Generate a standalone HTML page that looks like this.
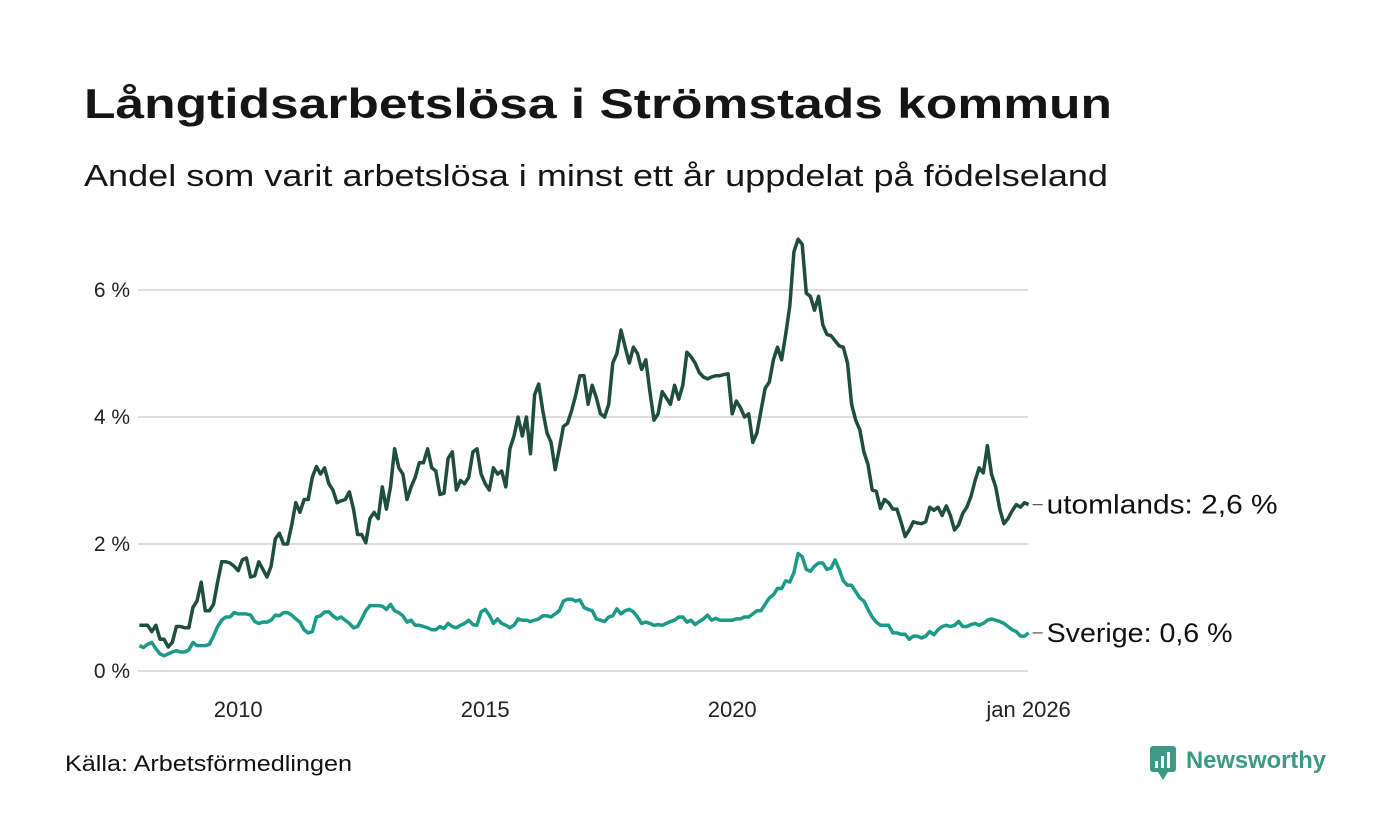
<!DOCTYPE html>
<html><head><meta charset="utf-8">
<style>
body{margin:0;background:#fff;}
svg{display:block;font-family:"Liberation Sans","DejaVu Sans",sans-serif;}
</style></head>
<body>
<svg id="chart" width="1400" height="840" viewBox="0 0 1400 840" xmlns="http://www.w3.org/2000/svg">
<rect width="1400" height="840" fill="#fff"/>
<text x="84" y="118" font-size="42" font-weight="bold" fill="#151515" textLength="1028" lengthAdjust="spacingAndGlyphs">Långtidsarbetslösa i Strömstads kommun</text>
<text x="84" y="186" font-size="31" fill="#151515" textLength="1024" lengthAdjust="spacingAndGlyphs">Andel som varit arbetslösa i minst ett år uppdelat på födelseland</text>
<g id="grid"></g>
<g id="series"></g>
<text x="65" y="771" font-size="22" fill="#111" textLength="287" lengthAdjust="spacingAndGlyphs">Källa: Arbetsförmedlingen</text>
<g>
<rect x="1150" y="746" width="26" height="26" rx="3" fill="#3a9a86"/>
<polygon points="1158,772 1163,780 1168,772" fill="#3a9a86"/>
<rect x="1155" y="761" width="3" height="7" fill="#fff"/>
<rect x="1161" y="756" width="3" height="12" fill="#fff"/>
<rect x="1167" y="752" width="3" height="16" fill="#fff"/>
<text x="1186" y="768" font-size="24" font-weight="bold" fill="#3a9a86" textLength="140" lengthAdjust="spacingAndGlyphs">Newsworthy</text>
</g>
</svg>
<script>
const yTicks=[0,2,4,6];
const xTickLabels=["2010","2015","2020","jan 2026"];
const xTickYears=[2010,2015,2020,2026];
const startYear=2008;
const utomlands=[
0.72,0.72,0.72,0.62,0.72,0.5,0.5,0.38,0.45,0.7,0.7,0.68,
0.68,1.0,1.1,1.4,0.95,0.95,1.05,1.4,1.72,1.72,1.7,1.65,
1.58,1.75,1.78,1.48,1.5,1.72,1.6,1.48,1.65,2.08,2.17,2.0,
2.0,2.3,2.65,2.5,2.7,2.7,3.05,3.22,3.1,3.2,2.95,2.85,
2.65,2.68,2.7,2.82,2.55,2.15,2.15,2.02,2.4,2.5,2.4,2.9,
2.55,2.9,3.5,3.2,3.1,2.7,2.9,3.05,3.28,3.28,3.5,3.2,
3.15,2.78,2.8,3.35,3.45,2.85,3.0,2.95,3.05,3.45,3.5,3.1,
2.95,2.85,3.2,3.1,3.15,2.9,3.5,3.7,4.0,3.7,4.0,3.42,
4.35,4.52,4.1,3.75,3.6,3.17,3.5,3.85,3.9,4.1,4.35,4.65,
4.65,4.2,4.5,4.3,4.05,4.0,4.2,4.85,5.0,5.37,5.1,4.85,
5.1,5.0,4.75,4.9,4.4,3.95,4.05,4.4,4.3,4.2,4.5,4.28,
4.5,5.02,4.95,4.85,4.7,4.63,4.6,4.63,4.65,4.65,4.67,4.68,
4.05,4.25,4.15,4.0,4.05,3.6,3.75,4.1,4.45,4.55,4.9,5.1,
4.9,5.3,5.75,6.6,6.8,6.72,5.95,5.9,5.68,5.9,5.45,5.3,
5.28,5.2,5.12,5.1,4.85,4.2,3.95,3.8,3.45,3.25,2.85,2.83,
2.56,2.7,2.65,2.55,2.55,2.35,2.12,2.22,2.35,2.33,2.32,2.35,
2.58,2.53,2.58,2.45,2.6,2.45,2.22,2.3,2.48,2.58,2.75,3.0,
3.2,3.12,3.55,3.1,2.9,2.55,2.32,2.4,2.52,2.62,2.58,2.65,
2.62];
const sverige=[
0.4,0.37,0.42,0.45,0.35,0.27,0.24,0.27,0.3,0.32,0.3,0.3,
0.33,0.45,0.4,0.4,0.4,0.42,0.55,0.7,0.8,0.85,0.85,0.92,
0.9,0.9,0.9,0.88,0.78,0.75,0.77,0.77,0.8,0.88,0.87,0.92,
0.92,0.88,0.82,0.77,0.65,0.6,0.62,0.85,0.87,0.93,0.93,0.87,
0.82,0.85,0.8,0.75,0.68,0.7,0.82,0.95,1.03,1.03,1.03,1.02,
0.97,1.05,0.95,0.92,0.87,0.77,0.8,0.72,0.72,0.7,0.68,0.65,
0.65,0.7,0.67,0.75,0.7,0.68,0.72,0.75,0.8,0.73,0.72,0.93,
0.97,0.88,0.75,0.82,0.75,0.72,0.68,0.72,0.82,0.8,0.8,0.78,
0.8,0.82,0.87,0.87,0.85,0.9,0.95,1.1,1.13,1.13,1.1,1.12,
1.0,0.97,0.95,0.82,0.8,0.78,0.85,0.87,0.98,0.9,0.95,0.97,
0.93,0.85,0.75,0.77,0.75,0.72,0.73,0.72,0.75,0.78,0.8,0.85,
0.85,0.77,0.8,0.73,0.78,0.82,0.88,0.8,0.83,0.8,0.8,0.8,
0.8,0.82,0.82,0.85,0.85,0.9,0.95,0.95,1.05,1.15,1.2,1.3,
1.3,1.42,1.4,1.55,1.85,1.8,1.6,1.57,1.65,1.7,1.7,1.6,
1.62,1.75,1.6,1.42,1.35,1.35,1.25,1.15,1.1,0.97,0.85,0.77,
0.72,0.72,0.72,0.6,0.6,0.58,0.58,0.5,0.55,0.55,0.52,0.55,
0.62,0.57,0.65,0.7,0.72,0.7,0.72,0.78,0.7,0.7,0.73,0.75,
0.72,0.75,0.8,0.82,0.8,0.78,0.75,0.7,0.65,0.62,0.55,0.55,
0.6];
const seriesNames=["utomlands","Sverige"];
const seriesColors=["#1f4d40","#1a9a87"];

const NS="http://www.w3.org/2000/svg";
const y0=671,pxPerUnit=63.5,x2008=139.4,pxPerYear=49.4;
const yScale=v=>y0-v*pxPerUnit;
const xScale=yr=>x2008+(yr-2008)*pxPerYear;
const xIdx=i=>xScale(startYear+i/12);
const fmt=v=>v.toFixed(1).replace('.',',');
const grid=document.getElementById('grid');
const ser=document.getElementById('series');
function mk(tag,attrs,parent){const e=document.createElementNS(NS,tag);for(const k in attrs)e.setAttribute(k,attrs[k]);parent.appendChild(e);return e;}
yTicks.forEach(t=>{
  const l=mk('line',{x1:138,x2:1028,y1:yScale(t),y2:yScale(t),stroke:'#dedede','stroke-width':2},grid);
  
  
  const tx=mk('text',{x:130,y:yScale(t)+7,'text-anchor':'end','font-size':21,fill:'#222'},grid);
  tx.textContent=t+' %';
  
  
});
xTickYears.forEach((yr,i)=>{
  const tx=mk('text',{x:xScale(yr),y:717,'text-anchor':'middle','font-size':22,fill:'#222'},grid);
  tx.textContent=xTickLabels[i];
  
  
});
const labelWidths=[231,186];
[utomlands,sverige].forEach((data,s)=>{
  const d=data.map((v,i)=>(i?'L':'M')+xIdx(i).toFixed(1)+','+yScale(v).toFixed(1)).join('');
  const p=mk('path',{d:d,fill:'none',stroke:seriesColors[s],'stroke-width':3.5,'stroke-linejoin':'round'},ser);
  
  
  const last=data[data.length-1];
  const ly=yScale(last);
  const xe=xIdx(data.length-1);
  const c=mk('line',{x1:xe+4,x2:xe+14,y1:ly,y2:ly,stroke:'#555','stroke-width':1.2},ser);
  
  
  const tx=mk('text',{x:xe+18,y:ly+9,'font-size':27,fill:'#111',textLength:labelWidths[s],lengthAdjust:'spacingAndGlyphs'},ser);
  tx.textContent=seriesNames[s]+': '+fmt(last)+' %';
  
  
});
</script>
</body></html>
